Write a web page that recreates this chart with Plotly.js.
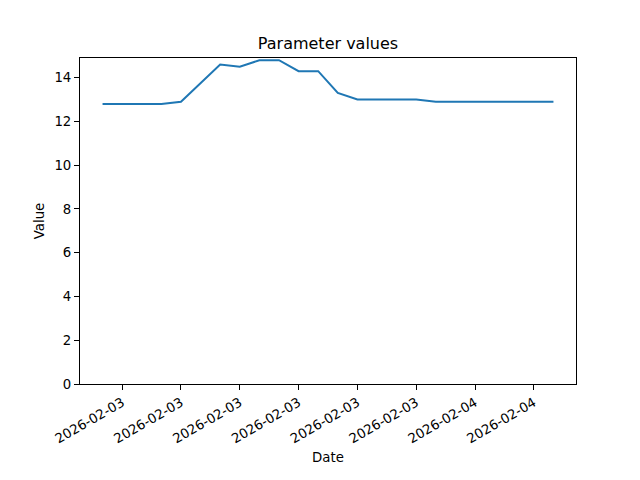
<!DOCTYPE html>
<html>
<head>
<meta charset="utf-8">
<script src="https://cdn.plot.ly/plotly-3.0.1.min.js"></script>
<style>
  html, body { margin: 0; padding: 0; background: #fff; }
  #chart { width: 640px; height: 480px; }
</style>
</head>
<body>
<div id="chart"></div>
<script>
// hourly readings, 2026-02-03 05:00 .. 2026-02-04 04:00
const times = [
    '2026-02-03 05:00', '2026-02-03 06:00', '2026-02-03 07:00', '2026-02-03 08:00',
    '2026-02-03 09:00', '2026-02-03 10:00', '2026-02-03 11:00', '2026-02-03 12:00',
    '2026-02-03 13:00', '2026-02-03 14:00', '2026-02-03 15:00', '2026-02-03 16:00',
    '2026-02-03 17:00', '2026-02-03 18:00', '2026-02-03 19:00', '2026-02-03 20:00',
    '2026-02-03 21:00', '2026-02-03 22:00', '2026-02-03 23:00', '2026-02-04 00:00',
    '2026-02-04 01:00', '2026-02-04 02:00', '2026-02-04 03:00', '2026-02-04 04:00'
];
const values = [
    12.8, 12.8, 12.8, 12.8,
    12.9, 13.75, 14.6, 14.5,
    14.8, 14.8, 14.3, 14.3,
    13.3, 13.0, 13.0, 13.0,
    13.0, 12.9, 12.9, 12.9,
    12.9, 12.9, 12.9, 12.9
];
const tickTimes = [
    '2026-02-03 06:00', '2026-02-03 09:00', '2026-02-03 12:00', '2026-02-03 15:00',
    '2026-02-03 18:00', '2026-02-03 21:00', '2026-02-04 00:00', '2026-02-04 03:00'
];
const yTicks = [0, 2, 4, 6, 8, 10, 12, 14];

const font = { family: 'DejaVu Sans, sans-serif', size: 13.3, color: '#000' };

const trace = {
    x: times,
    y: values,
    type: 'scatter',
    mode: 'lines',
    line: { color: '#1f77b4', width: 2 },
    hoverinfo: 'skip'
};

const layout = {
    width: 640,
    height: 480,
    paper_bgcolor: '#fff',
    plot_bgcolor: '#fff',
    font: font,
    showlegend: false,
    margin: { l: 80, r: 64, t: 58, b: 96 },
    title: {
        text: 'Parameter values',
        font: { family: font.family, size: 16, color: '#000' },
        xref: 'paper', x: 0.5, xanchor: 'center',
        y: 1 - 43 / 480, yanchor: 'middle'
    },
    xaxis: {
        type: 'date',
        range: ['2026-02-03 03:51', '2026-02-04 05:09'],
        tickmode: 'array',
        tickvals: tickTimes,
        ticktext: tickTimes.map(t => t.slice(0, 10)),
        tickangle: -30,
        ticks: 'outside', ticklen: 5, tickwidth: 1, tickcolor: '#000',
        showgrid: false, zeroline: false,
        showline: true, linecolor: '#000', linewidth: 1, mirror: true,
        tickfont: font,
        title: { text: 'Date', font: font, standoff: 7 }
    },
    yaxis: {
        range: [0, 14.9],
        tickmode: 'array',
        tickvals: yTicks,
        ticks: 'outside', ticklen: 5, tickwidth: 1, tickcolor: '#000',
        showgrid: false, zeroline: false,
        showline: true, linecolor: '#000', linewidth: 1, mirror: true,
        tickfont: font,
        title: { text: 'Value', font: font, standoff: 6 }
    }
};

Plotly.newPlot('chart', [trace], layout, { staticPlot: true, displayModeBar: false });
</script>
</body>
</html>
